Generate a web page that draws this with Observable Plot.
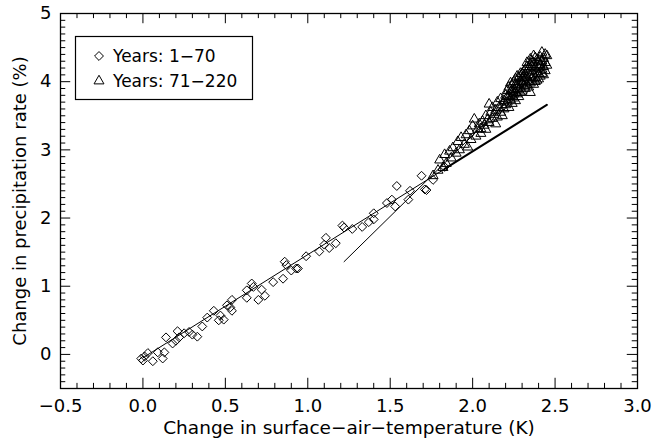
<!DOCTYPE html>
<html><head><meta charset="utf-8">
<script src="https://cdn.jsdelivr.net/npm/d3@7"></script>
<script src="https://cdn.jsdelivr.net/npm/@observablehq/plot@0.6"></script>
<style>body{margin:0;background:#fff} #chart{width:669px;height:441px}</style>
</head><body><div id="chart"></div>
<script>
// Years 1-70 (diamonds)
const diamondX = [-0.01,0.00,0.01,0.03,0.06,0.09,0.12,0.13,0.14,0.18,0.20,0.21,0.22,0.25,0.28,0.30,0.33,0.36,0.39,0.43,0.46,0.47,0.49,0.51,0.53,0.54,0.54,0.63,0.63,0.66,0.67,0.70,0.72,0.74,0.79,0.85,0.86,0.87,0.90,0.93,0.94,0.99,1.07,1.10,1.11,1.13,1.17,1.21,1.22,1.27,1.33,1.37,1.40,1.40,1.48,1.51,1.53,1.54,1.61,1.62,1.69,1.71,1.72,1.76,1.83];
const diamondY = [-0.06,-0.09,-0.03,0.02,-0.10,0.03,-0.06,0.03,0.25,0.16,0.20,0.34,0.25,0.31,0.33,0.29,0.26,0.41,0.54,0.64,0.50,0.57,0.51,0.72,0.69,0.80,0.64,0.94,0.83,1.04,0.99,0.80,0.95,0.86,1.06,1.11,1.36,1.31,1.23,1.26,1.26,1.44,1.51,1.61,1.71,1.56,1.63,1.89,1.86,1.84,1.87,1.94,2.07,1.98,2.22,2.27,2.17,2.47,2.27,2.40,2.62,2.42,2.41,2.56,2.75];
// Years 71-220 (triangles)
const triangleX = [1.76,1.79,1.80,1.82,1.83,1.84,1.86,1.87,1.88,1.90,1.91,1.92,1.93,1.95,1.96,
1.97,1.98,1.99,2.00,2.01,2.02,2.03,2.04,2.05,2.05,2.06,2.07,2.08,2.08,2.09,2.10,2.10,2.11,2.12,2.12,2.13,2.14,2.14,2.15,2.15,2.16,2.17,2.17,2.18,2.18,2.19,2.19,2.20,2.20,
2.21,2.21,2.22,2.22,2.22,2.23,2.23,2.24,2.24,2.24,2.25,2.25,2.25,2.26,2.26,2.26,2.27,2.27,2.27,2.28,2.28,2.28,2.29,2.29,2.29,2.30,2.30,2.30,2.31,2.31,2.31,2.32,2.32,2.32,2.33,2.33,2.33,2.34,2.34,2.34,2.35,2.35,2.35,2.35,2.36,2.36,2.36,2.37,2.37,2.37,2.38,2.38,2.38,2.39,2.39,2.39,2.40,2.40,2.40,2.41,2.41,2.41,2.42,2.42,2.42,2.43,2.43,2.43,2.44,2.44,2.45,2.45,2.44,2.36,2.32,2.30,2.28,2.26,2.24,2.23,2.34,2.38,2.40,2.42,2.39,2.37,2.35,2.33,2.31,2.29,2.27,2.25,2.21];
const triangleY = [2.62,2.70,2.85,2.74,2.93,2.80,2.98,2.88,3.03,2.95,3.12,3.00,3.18,3.08,3.22,
3.04,3.28,3.15,3.35,3.45,3.20,3.30,3.38,3.31,3.24,3.42,3.36,3.50,3.30,3.44,3.67,3.40,3.55,3.46,3.62,3.52,3.38,3.58,3.70,3.48,3.62,3.55,3.75,3.66,3.50,3.72,3.60,3.80,3.66,
3.87,3.70,3.62,3.78,3.92,3.74,3.85,3.68,3.95,3.80,3.88,3.76,4.00,4.04,3.84,3.72,3.82,3.95,4.08,3.88,3.78,4.00,3.92,4.12,3.84,3.98,4.05,3.86,4.15,3.94,4.02,3.90,4.10,3.98,4.28,4.06,3.95,4.14,4.00,4.20,3.84,4.08,4.25,3.98,4.16,4.04,4.30,4.28,4.10,3.96,4.20,4.06,4.35,4.14,4.24,4.02,4.30,4.12,4.20,4.36,4.08,4.25,4.43,4.18,4.30,4.22,4.10,4.34,4.28,4.16,4.38,4.24,4.40,4.22,4.18,4.12,4.06,3.96,3.88,3.98,3.92,4.00,4.04,4.12,4.32,4.38,4.33,4.22,4.08,4.00,3.90,3.82,3.78];
// Fitted lines
const fit1X = [0.00, 1.83];
const fit1Y = [-0.05, 2.72];
const fit1ExtX = [1.83, 2.45];
const fit1ExtY = [2.72, 3.66];
const fit2X = [1.22, 2.45];
const fit2Y = [1.36, 4.28];
// Axes
const xTickValues = [-0.5, 0.0, 0.5, 1.0, 1.5, 2.0, 2.5, 3.0];
const yTickValues = [0, 1, 2, 3, 4, 5];
const xTitle = "Change in surface\u2212air\u2212temperature (K)";
const yTitle = "Change in precipitation rate (%)";
const legendLabels = ["Years: 1\u221270", "Years: 71\u2212220"];

const font = "DejaVu Sans, Liberation Sans, sans-serif";
const xMinor = d3.range(-5, 31).map(i => i / 10);
const yMinor = d3.range(-5, 51).map(i => i / 10);
const xMaj = 0.15, xMin = 0.075, yMaj = 0.062, yMin = 0.032;
const rDiamond = 4.0, rTriangle = 3.7;

const chart = Plot.plot({
  width: 669, height: 441,
  marginLeft: 60, marginRight: 32, marginTop: 13, marginBottom: 53,
  x: {domain: [-0.5, 3.0]},
  y: {domain: [-0.5, 5.0]},
  style: {fontFamily: font, fontSize: "18px", color: "black", background: "white"},
  marks: [
    Plot.axisX(xTickValues, {tickSize: 0, tickPadding: 11, tickFormat: d3.format(".1f"), label: null}),
    Plot.axisY(yTickValues, {tickSize: 0, tickPadding: 9, tickFormat: d3.format("d"), label: null}),
    Plot.text([xTitle], {text: d => d, frameAnchor: "bottom", dy: 45, fontSize: 18.5, textAnchor: "middle"}),
    Plot.text([yTitle], {text: d => d, frameAnchor: "left", dx: -40, rotate: -90, fontSize: 18, textAnchor: "middle"}),
    // inward ticks on all four sides
    Plot.ruleX(xMinor, {x: d => d, y1: () => -0.5, y2: d => -0.5 + (Math.abs(d * 2 - Math.round(d * 2)) < 1e-6 ? xMaj : xMin), stroke: "black"}),
    Plot.ruleX(xMinor, {x: d => d, y1: () => 5.0, y2: d => 5.0 - (Math.abs(d * 2 - Math.round(d * 2)) < 1e-6 ? xMaj : xMin), stroke: "black"}),
    Plot.ruleY(yMinor, {y: d => d, x1: () => -0.5, x2: d => -0.5 + (Math.abs(d - Math.round(d)) < 1e-6 ? yMaj : yMin), stroke: "black"}),
    Plot.ruleY(yMinor, {y: d => d, x1: () => 3.0, x2: d => 3.0 - (Math.abs(d - Math.round(d)) < 1e-6 ? yMaj : yMin), stroke: "black"}),
    Plot.line(fit1X, {x: fit1X, y: fit1Y, stroke: "black", strokeWidth: 1}),
    Plot.line(fit1ExtX, {x: fit1ExtX, y: fit1ExtY, stroke: "black", strokeWidth: 2}),
    Plot.line(fit2X, {x: fit2X, y: fit2Y, stroke: "black", strokeWidth: 1}),
    Plot.dot(diamondX, {x: diamondX, y: diamondY, symbol: "diamond2", r: rDiamond, stroke: "black", fill: "none", strokeWidth: 1}),
    Plot.dot(triangleX, {x: triangleX, y: triangleY, symbol: "triangle", r: rTriangle, stroke: "black", fill: "none", strokeWidth: 1}),
    Plot.frame({stroke: "black", strokeWidth: 1.3})
  ]
});
document.getElementById("chart").appendChild(chart);

// legend box inside the plot
const svg = d3.select(chart);
const lg = svg.append("g").attr("font-family", font).attr("font-size", 17).attr("text-anchor", "start");
lg.append("rect").attr("x", 75.5).attr("y", 36.5).attr("width", 177).attr("height", 63)
  .attr("fill", "white").attr("stroke", "black").attr("stroke-width", 1.2);
const legendSymbols = [d3.symbol(d3.symbolDiamond2, Math.PI * rDiamond * rDiamond), d3.symbol(d3.symbolTriangle, Math.PI * rTriangle * rTriangle)];
legendLabels.forEach((lab, i) => {
  const cy = 56 + i * 25;
  lg.append("path").attr("d", legendSymbols[i]()).attr("transform", `translate(99,${cy})`)
    .attr("fill", "none").attr("stroke", "black").attr("stroke-width", 1);
  lg.append("text").attr("x", 113).attr("y", cy).attr("dy", "0.35em").attr("fill", "black").text(lab);
});
</script>
</body></html>
